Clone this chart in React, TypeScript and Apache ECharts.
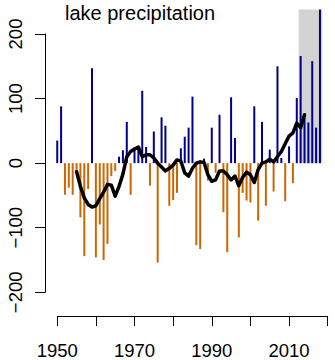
import React, { useEffect, useRef } from "react";
import * as echarts from "echarts";

const YEARS: number[] = [];
for (let y = 1950; y <= 2018; y++) YEARS.push(y);

const PRECIP: number[] = [
  35, 88, -49, -38, -49, -10, -84, -144, -40, 147,
  -146, -95, -150, -125, -20, -12, 10, 20, 64, -49,
  24, 22, 112, 25, -35, 49, -154, 71, 58, -66,
  -57, -46, 23, 41, 55, 103, -127, -133, 7, -27,
  55, -15, 75, -76, -138, 102, 39, -115, -46, -58,
  -61, 88, -89, 64, -66, 21, -44, 150, 8, -59,
  26, -31, 101, 166, 72, 63, 158, 55, 238,
];

const SMOOTH_YEARS: number[] = [];
for (let y = 1955; y <= 2014; y++) SMOOTH_YEARS.push(y);

const SMOOTH: number[] = [
  -13, -36, -54, -64, -68, -66, -55, -45, -33, -34,
  -51, -36, -17, 10, 18, 22, 25, 10, 13, 13,
  8, 0, -6, -12, -8, -3, 5, 3, -15, -20,
  -8, 0, 2, 1, -18, -28, -26, -12, -12, -18,
  -26, -20, -35, -22, -14, -18, -30, -10, 0, 2,
  6, 2, 10, 18, 30, 42, 47, 62, 55, 75,
];

const X_TICK_LABELS = ["1950", "1970", "1990", "2010"];
const Y_TICKS = [-200, -100, 0, 100, 200];
const SHADE_YEARS = [2012.5, 2018.6];
const SHADE_TOP = 238;
const TITLE = "lake precipitation";

const FONT = "Liberation Sans, Arial, Helvetica, sans-serif";

export default function App() {
  const ref = useRef<HTMLDivElement>(null);
  useEffect(() => {
    if (!ref.current) return;
    const chart = echarts.init(ref.current, undefined, { renderer: "svg" });
    const barData = YEARS.map((y, i) => ({
      value: [y, PRECIP[i]],
      itemStyle: { color: PRECIP[i] >= 0 ? "#00008B" : "#CD6600" },
    }));
    const lineData = SMOOTH_YEARS.map((y, i) => [y, SMOOTH[i]]);
    chart.setOption({
      animation: false,
      backgroundColor: "#ffffff",
      textStyle: { fontFamily: FONT },
      title: {
        text: TITLE,
        left: 65,
        top: 3,
        padding: 0,
        textStyle: { fontSize: 20, fontWeight: "normal", color: "#000", fontFamily: FONT },
      },
      grid: [
        { left: 46.8, right: 4.6, top: 8.2, bottom: 41.9 },
        { left: 57.3, right: 7.3, top: 300, bottom: 42.7 },
        { left: 45, width: 1, top: 34, bottom: 67.7 },
      ],
      xAxis: [
        { type: "value", gridIndex: 0, min: 1947.3, max: 2020.7, show: false },
        {
          type: "value",
          gridIndex: 1,
          min: 1950,
          max: 2020,
          interval: 10,
          position: "bottom",
          axisLine: { show: true, lineStyle: { color: "#000", width: 1 } },
          axisTick: { show: true, length: 10, lineStyle: { color: "#000", width: 1 } },
          splitLine: { show: false },
          axisLabel: {
            margin: 25,
            fontSize: 18.5,
            color: "#000",
            fontFamily: FONT,
            formatter: (v: number) => (X_TICK_LABELS.includes(String(v)) ? String(v) : ""),
          },
        },
        { type: "value", gridIndex: 2, min: 0, max: 1, show: false },
      ],
      yAxis: [
        { type: "value", gridIndex: 0, min: -240, max: 240, show: false },
        { type: "value", gridIndex: 1, min: 0, max: 1, show: false },
        {
          type: "value",
          gridIndex: 2,
          min: Y_TICKS[0],
          max: Y_TICKS[Y_TICKS.length - 1],
          interval: 100,
          position: "left",
          axisLine: { show: true, lineStyle: { color: "#000", width: 1 } },
          axisTick: { show: true, length: 10, lineStyle: { color: "#000", width: 1 } },
          splitLine: { show: false },
          axisLabel: {
            rotate: 90,
            margin: 20,
            fontSize: 18.5,
            color: "#000",
            fontFamily: FONT,
            formatter: (v: number) => String(v).replace("-", "\u2212"),
          },
        },
      ],
      series: [
        {
          type: "bar",
          xAxisIndex: 0,
          yAxisIndex: 0,
          barWidth: 2,
          data: barData,
          z: 2,
          markArea: {
            silent: true,
            itemStyle: { color: "#D3D3D3" },
            data: [
              [
                { xAxis: SHADE_YEARS[0], yAxis: 0 },
                { xAxis: SHADE_YEARS[1], yAxis: SHADE_TOP },
              ],
            ],
          },
        },
        {
          type: "line",
          xAxisIndex: 0,
          yAxisIndex: 0,
          data: lineData,
          showSymbol: false,
          symbol: "none",
          z: 5,
          lineStyle: { color: "#000", width: 3.5, join: "round", cap: "round" },
        },
      ],
    });
    return () => chart.dispose();
  }, []);
  return (
    <div
      ref={ref}
      style={{ position: "fixed", left: 0, top: 0, width: 335, height: 360, background: "#fff" }}
    />
  );
}
